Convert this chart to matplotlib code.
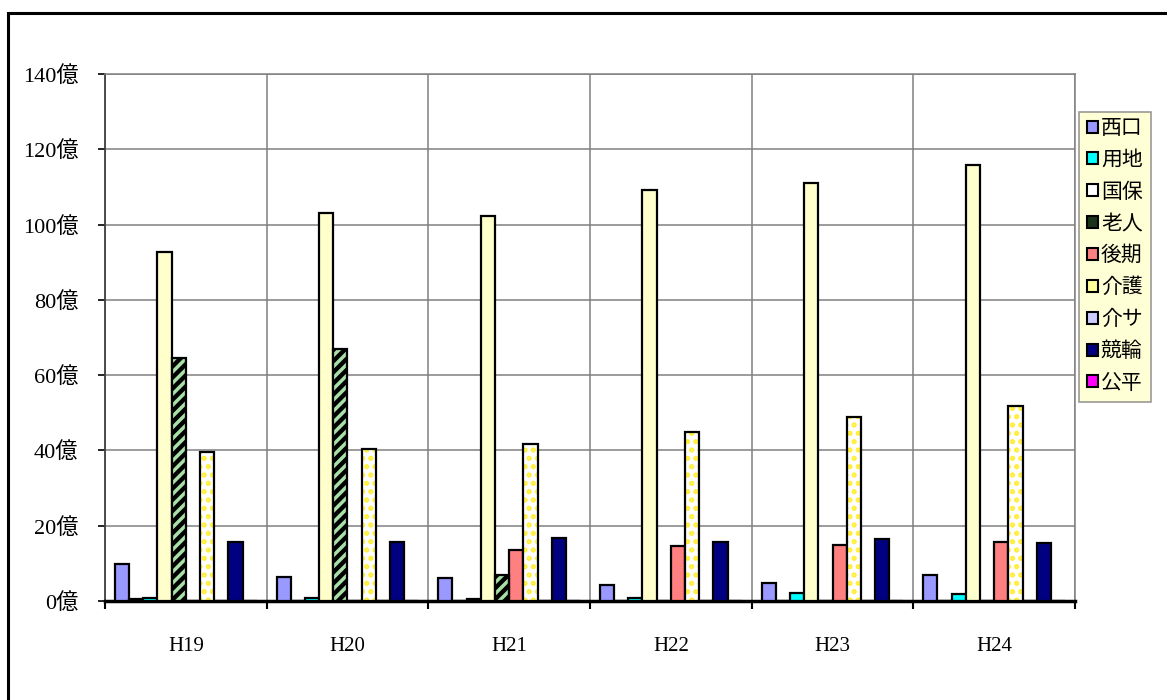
import matplotlib
matplotlib.use("Agg")
import matplotlib.pyplot as plt
from matplotlib.patches import Patch, Rectangle
import numpy as np

plt.rcParams['font.family'] = ['Liberation Serif', 'Noto Sans CJK JP', 'DejaVu Sans']
plt.rcParams['hatch.linewidth'] = 2.5

# data (unit: 億)
years = ["H19", "H20", "H21", "H22", "H23", "H24"]
nishiguchi = [9.8, 6.4, 6.1, 4.3, 4.9, 6.9]
other = [0.6, 0, 0, 0, 0, 0]          # unlabelled series in slot 2
youchi = [0.9, 0.8, 0.5, 0.8, 2.0, 1.9]
kokuho = [92.8, 103.1, 102.3, 109.2, 111.0, 115.8]
roujin = [64.6, 67.0, 6.9, 0, 0, 0]
kouki = [0, 0, 13.5, 14.6, 14.9, 15.8]
kaigo = [39.6, 40.4, 41.7, 44.9, 48.9, 51.8]
kaisa = [0, 0, 0, 0, 0, 0]
keirin = [15.7, 15.7, 16.7, 15.6, 16.5, 15.3]
kouhei = [0, 0, 0, 0, 0, 0]
yticks = [0, 20, 40, 60, 80, 100, 120, 140]

fig = plt.figure(figsize=(11.67, 7), dpi=100)
ax = fig.add_axes([105/1167, 1-601/700, (1075-105)/1167, (601-74)/700])

# outer chart border
fig.patches.append(Rectangle((8/1167, -0.05), 1.1, 1.05-13/700, transform=fig.transFigure,
                             fill=False, edgecolor='black', linewidth=2.2, clip_on=False))

x = np.arange(len(years))
w = 0.0877
lw = 1.6

def slot(i):
    return x + (i - 4.5) * w

ax.bar(slot(0), nishiguchi, w, color='#9999FF', edgecolor='black', linewidth=lw, zorder=3)
ax.bar(slot(1), other, w, color='#993366', edgecolor='black', linewidth=lw, zorder=3)
ax.bar(slot(2), youchi, w, color='#00FFFF', edgecolor='black', linewidth=lw, zorder=3)
ax.bar(slot(3), kokuho, w, color='#FFFFCC', edgecolor='black', linewidth=lw, zorder=3)
# hatched bars: fill + hatch first, outline afterwards
ax.bar(slot(4), roujin, w, color='black', edgecolor='#A8E0A8', hatch='///', linewidth=0, zorder=3)
ax.bar(slot(4), roujin, w, fill=False, edgecolor='black', linewidth=lw, zorder=4)
ax.bar(slot(5), kouki, w, color='#FF8080', edgecolor='black', linewidth=lw, zorder=3)
ax.bar(slot(6), kaigo, w, color='white', edgecolor='#FFEE33', hatch='..', linewidth=0, zorder=3)
ax.bar(slot(6), kaigo, w, fill=False, edgecolor='black', linewidth=lw, zorder=4)
ax.bar(slot(7), kaisa, w, color='#CCCCFF', edgecolor='black', linewidth=lw, zorder=3)
ax.bar(slot(8), keirin, w, color='#000080', edgecolor='black', linewidth=lw, zorder=3)
ax.bar(slot(9), kouhei, w, color='#FF00FF', edgecolor='black', linewidth=lw, zorder=3)

ax.set_xlim(-0.5, len(years) - 0.5)
ax.set_ylim(0, 140)
ax.set_yticks(yticks)
ax.set_yticklabels(['%d億' % v for v in yticks], fontsize=16)
ax.set_xticks(x)
ax.set_xticklabels(years, fontsize=15)
ax.tick_params(axis='x', length=0, pad=26)
ax.set_xticks(np.arange(len(years) + 1) - 0.5, minor=True)
ax.tick_params(axis='x', which='minor', length=6, width=1.5, direction='out', color='black')
ax.tick_params(axis='y', length=5, width=1.2, direction='out', pad=14)

ax.grid(axis='y', color='#808080', linewidth=1.1, zorder=0)
ax.grid(axis='x', which='minor', color='#808080', linewidth=1.1, zorder=0)
ax.set_axisbelow(True)
for s in ['top', 'right']:
    ax.spines[s].set_color('#808080')
    ax.spines[s].set_linewidth(1.1)
ax.spines['left'].set_color('#404040')
ax.spines['left'].set_linewidth(1.3)
ax.spines['bottom'].set_color('black')
ax.spines['bottom'].set_linewidth(2.5)

handles = [
    Patch(facecolor='#9999FF', edgecolor='black', linewidth=1.5, label='西口'),
    Patch(facecolor='#00FFFF', edgecolor='black', linewidth=1.5, label='用地'),
    Patch(facecolor='white', edgecolor='black', linewidth=1.5, label='国保'),
    Patch(facecolor='#1A331A', edgecolor='black', linewidth=1.5, label='老人'),
    Patch(facecolor='#FF8080', edgecolor='black', linewidth=1.5, label='後期'),
    Patch(facecolor='#FFFF99', edgecolor='black', linewidth=1.5, label='介護'),
    Patch(facecolor='#CCCCFF', edgecolor='black', linewidth=1.5, label='介サ'),
    Patch(facecolor='#000080', edgecolor='black', linewidth=1.5, label='競輪'),
    Patch(facecolor='#FF00FF', edgecolor='black', linewidth=1.5, label='公平'),
]
leg = fig.legend(handles=handles, loc='upper left', bbox_to_anchor=(1079/1167, 1-112/700),
                 fontsize=15, frameon=True, fancybox=False, handlelength=0.5, handleheight=0.5,
                 handletextpad=0.15, labelspacing=0.6, borderpad=0.4, borderaxespad=0)
leg.get_frame().set_facecolor('#FFFFCC')
leg.get_frame().set_edgecolor('#808080')
leg.get_frame().set_linewidth(1.2)

fig.savefig('out.png', dpi=100)
